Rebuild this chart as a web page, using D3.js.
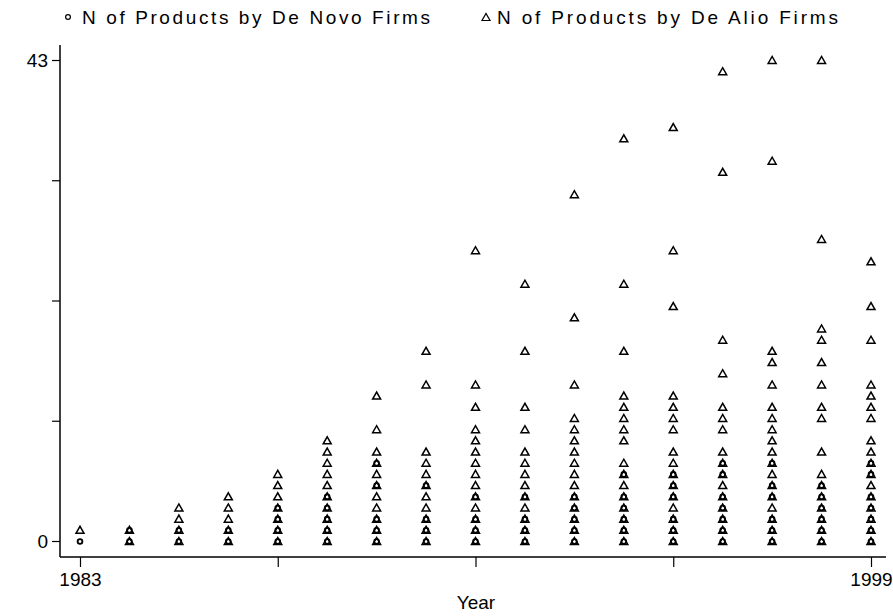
<!DOCTYPE html>
<html><head><meta charset="utf-8">
<script src="https://cdn.jsdelivr.net/npm/d3@7"></script>
<style>body{margin:0;background:#fff}svg{display:block}text{font-family:"Liberation Sans",Arial,sans-serif;fill:#000}</style>
</head><body><svg id="c" width="893" height="616"></svg>
<script>
const years = [1983,1984,1985,1986,1987,1988,1989,1990,1991,1992,1993,1994,1995,1996,1997,1998,1999];
const deNovo = [
  [0],[0,1],[0,1],[0,1],[0,1,2,3],[0,1,2,3,4],[0,1,2,5,7],[0,1,2,5],[0,1,2,4],[0,1,2,4],
  [0,1,2,3,4],[0,1,2,3,4,6],[0,1,2,4,5,6],[0,1,2,3,4,6,7],[0,1,2,4,5,7],[0,1,2,3,4,5],[0,1,2,3,4,6,7]
];
const deAlio = [
  [1],[0,1],[0,1,2,3],[0,1,2,3,4],[0,1,2,3,4,5,6],[0,1,2,3,4,5,6,7,8,9],
  [0,1,2,3,4,5,6,7,8,10,13],[0,1,2,3,4,5,6,7,8,14,17],[0,1,2,3,4,5,6,7,8,9,10,12,14,26],
  [0,1,2,3,4,5,6,7,8,10,12,17,23],[0,1,2,3,4,5,6,7,8,9,10,11,14,20,31],
  [0,1,2,3,4,5,6,7,9,10,11,12,13,17,23,36],[0,1,2,3,4,5,6,7,8,10,11,12,13,21,26,37],
  [0,1,2,3,4,5,6,7,8,10,11,12,15,18,33,42],[0,1,2,3,4,5,6,7,8,9,10,11,12,14,16,17,34,43],
  [0,1,2,3,4,5,6,8,11,12,14,16,18,19,27,43],[0,1,2,3,4,5,6,7,8,9,11,12,13,14,18,21,25]
];
const yTicks = [0, 10.75, 21.5, 32.25, 43];
const yTickLabels = ["0","","","","43"];
const xTicks = [1983,1987,1991,1995,1999];
const xTickLabels = ["1983","","","","1999"];
const legendLabels = ["N of Products by De Novo Firms","N of Products by De Alio Firms"];
const xTitle = "Year";

const svg = d3.select("#c");
const x = d3.scaleLinear().domain([1983,1999]).range([80,871]);
const y = d3.scaleLinear().domain([0,43]).range([541,60]);
const L = 60, B = 557, T = 45, R = 886;

svg.append("line").attr("x1",L).attr("x2",L).attr("y1",T).attr("y2",B).attr("stroke","#000").attr("stroke-width",1.5);
svg.append("line").attr("x1",L).attr("x2",R).attr("y1",B).attr("y2",B).attr("stroke","#000").attr("stroke-width",1.5);

const yAxis = d3.axisLeft(y).tickValues(yTicks).tickSize(8).tickSizeOuter(0)
  .tickFormat((d,i)=>yTickLabels[i]);
const gy = svg.append("g").attr("transform",`translate(${L},0)`).call(yAxis);
gy.select(".domain").remove();
gy.selectAll("text").style("font-size","19px").attr("x",-12).attr("dy","0.35em");
gy.selectAll("line").attr("stroke-width",1.2);

const xAxis = d3.axisBottom(x).tickValues(xTicks).tickSize(10).tickSizeOuter(0)
  .tickFormat((d,i)=>xTickLabels[i]);
const gx = svg.append("g").attr("transform",`translate(0,${B})`).call(xAxis);
gx.select(".domain").remove();
gx.selectAll("text").style("font-size","19px").attr("y",16);
gx.selectAll("line").attr("stroke-width",1.2);

svg.append("text").attr("x",476).attr("y",609).attr("text-anchor","middle").style("font-size","19px").text(xTitle);

const triPath = (cx,cy)=>`M${cx-4},${cy+3.5}L${cx+4},${cy+3.5}L${cx},${cy-3.5}Z`;
const triData = [], circData = [];
years.forEach((yr,i)=>{
  deAlio[i].forEach(v=>triData.push({yr,v}));
  deNovo[i].forEach(v=>circData.push({yr,v}));
});
svg.append("g").selectAll("path").data(triData).join("path")
  .attr("d",d=>triPath(x(d.yr),y(d.v)))
  .attr("fill","none").attr("stroke","#000").attr("stroke-width",1.5);
svg.append("g").selectAll("circle").data(circData).join("circle")
  .attr("cx",d=>x(d.yr)).attr("cy",d=>y(d.v)+0.5).attr("r",2.4)
  .attr("fill","none").attr("stroke","#000").attr("stroke-width",1.8);

svg.append("circle").attr("cx",68).attr("cy",17).attr("r",2.4).attr("fill","none").attr("stroke","#000").attr("stroke-width",1.2);
svg.append("text").attr("x",82).attr("y",24).style("font-size","19px")
  .attr("textLength",348).attr("lengthAdjust","spacing").text(legendLabels[0]);
svg.append("path").attr("d",triPath(486,17)).attr("fill","none").attr("stroke","#000").attr("stroke-width",1.2);
svg.append("text").attr("x",497).attr("y",24).style("font-size","19px")
  .attr("textLength",341).attr("lengthAdjust","spacing").text(legendLabels[1]);
</script></body></html>
